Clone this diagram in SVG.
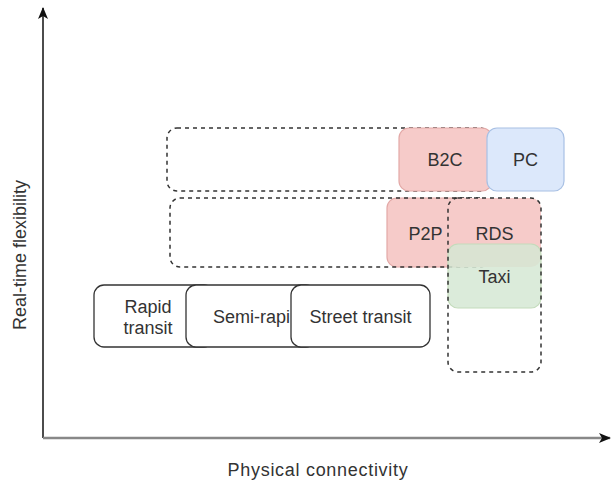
<svg xmlns="http://www.w3.org/2000/svg" width="611" height="481" viewBox="0 0 611 481">
<style>
text{font-family:"Liberation Sans",Arial,sans-serif;font-size:18px;fill:#333}
.mid{text-anchor:middle}
.dash{fill:none;stroke:#333;stroke-width:1.5;stroke-dasharray:4 4}
.plain{fill:#fff;stroke:#333;stroke-width:1.3}
.pink{fill:#f6cbc9;stroke:#e3a9a7;stroke-width:1.2}
.blue{fill:#dce8fb;stroke:#a8c0e4;stroke-width:1.2}
.green{fill:#d5e8d4;fill-opacity:0.85;stroke:#c3dbbb;stroke-width:1.2}
</style>
<defs>
<marker id="arr" viewBox="0 0 12 10" refX="11" refY="5" markerWidth="12" markerHeight="10" markerUnits="userSpaceOnUse" orient="auto">
<path d="M0,0 L12,5 L0,10 L3,5 Z" fill="#111"/>
</marker>
</defs>
<rect width="611" height="481" fill="#fff"/>

<g id="connectors">
<line x1="43" y1="438" x2="43" y2="8" stroke="#111" stroke-width="1.5" marker-end="url(#arr)"/>
<line x1="43" y1="438" x2="610" y2="438" stroke="#888" stroke-width="2.5" marker-end="url(#arr)"/>
</g>

<g id="row1-group"><rect class="dash" x="167" y="128" width="323" height="63" rx="10"/></g>
<g id="b2c"><rect class="pink" x="399" y="128" width="93" height="63" rx="10"/><text class="mid" x="445" y="166">B2C</text></g>
<g id="pc"><rect class="blue" x="487" y="128" width="77" height="63" rx="10"/><text class="mid" x="525.500" y="166">PC</text></g>

<g id="p2p"><rect class="pink" x="387" y="198" width="86" height="69" rx="10"/><text class="mid" x="425.500" y="240">P2P</text></g>
<g id="row2-group"><rect class="dash" x="170" y="198" width="320" height="69" rx="10"/></g>
<g id="rds-fill"><rect x="448" y="198" width="93" height="69" rx="10" fill="#f6cbc9"/><text class="mid" x="494.500" y="240">RDS</text></g>
<g id="taxi"><rect class="green" x="448" y="244" width="93" height="64" rx="10"/><text class="mid" x="494.500" y="283">Taxi</text></g>
<g id="rds"><rect class="dash" x="448" y="198" width="93" height="174" rx="10"/></g>

<g id="rapid-transit"><rect class="plain" x="94" y="285" width="120" height="62" rx="10"/><text class="mid" x="148" y="313">Rapid</text><text class="mid" x="148" y="334">transit</text></g>
<g id="semi-rapid"><rect class="plain" x="186" y="285" width="130" height="62" rx="10"/><text x="213" y="323">Semi-rapi</text></g>
<g id="street-transit"><rect class="plain" x="291" y="285" width="139" height="62" rx="10"/><text class="mid" x="360.500" y="323">Street transit</text></g>

<g id="axis-labels">
<text class="mid" x="318" y="476" style="letter-spacing:0.7px">Physical connectivity</text>
<text class="mid" transform="translate(26,255) rotate(-90)">Real-time flexibility</text>
</g>
</svg>
